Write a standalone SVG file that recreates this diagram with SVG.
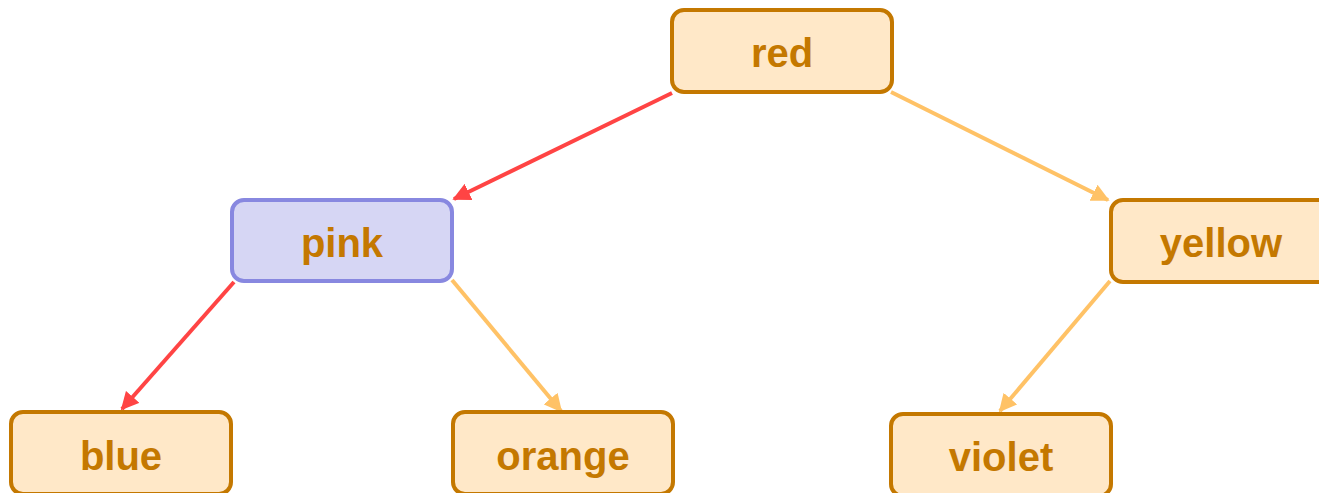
<svg xmlns="http://www.w3.org/2000/svg" width="1319" height="493" viewBox="0 0 1319 493">
<style>
.n rect{fill:#ffe8c8;stroke:#c47800;stroke-width:4}
.n.sel rect{fill:#d6d6f4;stroke:#8888e0}
.n text{font-family:"Liberation Sans",Arial,sans-serif;font-weight:bold;font-size:40px;fill:#c47800;text-anchor:middle}
.e{stroke-width:4;fill:none}
.hot{stroke:#ff4444}
.cold{stroke:#ffc266}
</style>
<defs>
<marker id="ah" viewBox="0 0 10 10" refX="9" refY="5" markerWidth="4.5" markerHeight="4.5" orient="auto" markerUnits="strokeWidth"><path d="M0,0L10,5L0,10z" fill="#ff4444"/></marker>
<marker id="ac" viewBox="0 0 10 10" refX="9" refY="5" markerWidth="4.5" markerHeight="4.5" orient="auto" markerUnits="strokeWidth"><path d="M0,0L10,5L0,10z" fill="#ffc266"/></marker>
</defs>
<g id="edges">
<line class="e hot" x1="672" y1="93" x2="454" y2="199" marker-end="url(#ah)"/>
<line class="e cold" x1="891" y1="92" x2="1108" y2="200" marker-end="url(#ac)"/>
<line class="e hot" x1="234" y1="282" x2="122" y2="409" marker-end="url(#ah)"/>
<line class="e cold" x1="452" y1="280" x2="561" y2="411" marker-end="url(#ac)"/>
<line class="e cold" x1="1110" y1="281" x2="1000" y2="411" marker-end="url(#ac)"/>
</g>
<g id="red" class="n"><rect x="672" y="10" width="220" height="82" rx="12"/><text x="782" y="67">red</text></g>
<g id="pink" class="n sel"><rect x="232" y="200" width="220" height="81" rx="12"/><text x="342" y="257">pink</text></g>
<g id="yellow" class="n"><rect x="1111" y="200" width="220" height="82" rx="12"/><text x="1221" y="257">yellow</text></g>
<g id="blue" class="n"><rect x="11" y="412" width="220" height="82" rx="12"/><text x="121" y="470">blue</text></g>
<g id="orange" class="n"><rect x="453" y="412" width="220" height="82" rx="12"/><text x="563" y="470">orange</text></g>
<g id="violet" class="n"><rect x="891" y="414" width="220" height="82" rx="12"/><text x="1001" y="471">violet</text></g>
</svg>
